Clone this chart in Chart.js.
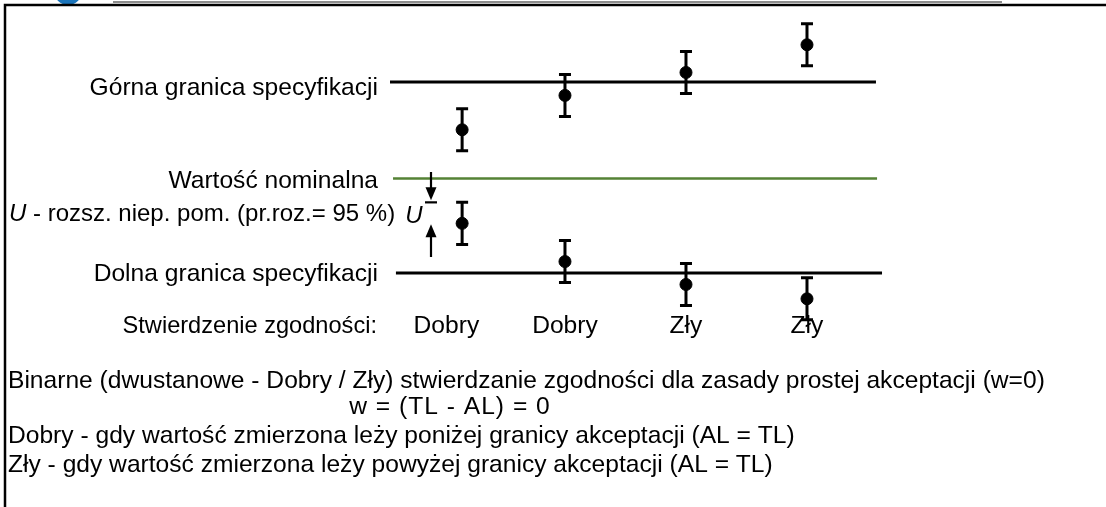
<!DOCTYPE html>
<html>
<head>
<meta charset="utf-8">
<script src="https://cdn.jsdelivr.net/npm/chart.js@4"></script>
<style>
  html, body { margin: 0; padding: 0; background: #fff; }
  #chart { display: block; }
</style>
</head>
<body>
<canvas id="chart" width="1106" height="507"></canvas>
<script>
// measurement results (upper group and lower group) and their verdicts
const verdicts = ['Dobry', 'Dobry', 'Zły', 'Zły'];
const xPos = [1.15, 2, 3, 4];
const verdictPos = [1.02, 2, 3, 4];
const upperValues = [10.50, 10.86, 11.10, 11.39];
const lowerValues = [9.52, 9.12, 8.88, 8.73];
const expandedU = 0.22;

// specification limits and nominal value
const upperLimit = 11.0;
const nominalValue = 9.99;
const lowerLimit = 9.0;
const upperSpan = [0.554, 4.57];
const nominalSpan = [0.579, 4.579];
const lowerSpan = [0.603, 4.62];

const leftLabels = [
    'Górna granica specyfikacji',
    'Wartość nominalna',
    'Dolna granica specyfikacji'
];
const uLabel = ' - rozsz. niep. pom. (pr.roz.= 95 %)';
const verdictTitle = 'Stwierdzenie zgodności:';
const noteLines = [
    'Binarne (dwustanowe - Dobry / Zły) stwierdzanie zgodności dla zasady prostej akceptacji (w=0)',
    'w = (TL - AL) = 0',
    'Dobry - gdy wartość zmierzona leży poniżej granicy akceptacji (AL = TL)',
    'Zły - gdy wartość zmierzona leży powyżej granicy akceptacji (AL = TL)'
];

const FAMILY = '"Liberation Sans", Arial, sans-serif';
const font = (size, style) => (style ? style + ' ' : '') + size + 'px ' + FAMILY;

function toPoints(xs, ys) {
    return xs.map((x, i) => ({ x: x, y: ys[i] }));
}

function arrow(ctx, x, y1, y2) {
    // shaft from y1 to tip at y2
    const dir = y2 > y1 ? 1 : -1;
    ctx.beginPath();
    ctx.moveTo(x, y1);
    ctx.lineTo(x, y2 - dir * 8);
    ctx.stroke();
    ctx.beginPath();
    ctx.moveTo(x, y2);
    ctx.lineTo(x - 5.5, y2 - dir * 13);
    ctx.lineTo(x + 5.5, y2 - dir * 13);
    ctx.closePath();
    ctx.fill();
}

// error bars for every measurement
const errorBars = {
    id: 'errorBars',
    afterDatasetsDraw(chart) {
        const { ctx, scales: { x, y } } = chart;
        ctx.save();
        ctx.strokeStyle = '#000';
        ctx.lineWidth = 3;
        [upperValues, lowerValues].forEach(vals => {
            vals.forEach((v, i) => {
                const px = x.getPixelForValue(xPos[i]);
                const top = y.getPixelForValue(v + expandedU);
                const bot = y.getPixelForValue(v - expandedU);
                ctx.beginPath();
                ctx.moveTo(px, top);
                ctx.lineTo(px, bot);
                ctx.moveTo(px - 6, top);
                ctx.lineTo(px + 6, top);
                ctx.moveTo(px - 6, bot);
                ctx.lineTo(px + 6, bot);
                ctx.stroke();
            });
        });
        ctx.restore();
    }
};

// texts, U arrows and the frame
const annotations = {
    id: 'annotations',
    afterDraw(chart) {
        const { ctx, scales: { x, y } } = chart;
        ctx.save();

        // frame
        ctx.fillStyle = '#1b75bb';
        ctx.beginPath();
        ctx.arc(68, -9, 14, 0, Math.PI * 2);
        ctx.fill();
        ctx.strokeStyle = '#8c8c8c';
        ctx.lineWidth = 2;
        ctx.beginPath();
        ctx.moveTo(113, 2);
        ctx.lineTo(1002, 2);
        ctx.stroke();
        ctx.strokeStyle = '#000';
        ctx.lineWidth = 2.5;
        ctx.beginPath();
        ctx.moveTo(5, 507);
        ctx.lineTo(5, 5);
        ctx.lineTo(1106, 5);
        ctx.stroke();

        ctx.fillStyle = '#000';
        ctx.textBaseline = 'middle';

        // left side labels
        ctx.font = font(24.6);
        ctx.textAlign = 'right';
        ctx.fillText(leftLabels[0], 378, 88);
        ctx.fillText(leftLabels[1], 378, 181);
        ctx.fillText(leftLabels[2], 378, 274);
        ctx.font = font(23.6);
        ctx.fillText(verdictTitle, 377, 326);

        ctx.textAlign = 'left';
        ctx.font = font(24, 'italic');
        ctx.fillText('U', 9, 214);
        const uw = ctx.measureText('U').width;
        ctx.font = font(24);
        ctx.fillText(uLabel, 9 + uw, 214);

        // verdict labels under each pair of results
        ctx.font = font(24.6);
        ctx.textAlign = 'center';
        verdicts.forEach((v, i) => {
            ctx.fillText(v, x.getPixelForValue(verdictPos[i]), 326);
        });

        // U annotation arrows
        const ax = 431;
        const barY = y.getPixelForValue(lowerValues[0] + expandedU);
        const tipY = y.getPixelForValue(lowerValues[0]);
        ctx.strokeStyle = '#000';
        ctx.lineWidth = 2.2;
        arrow(ctx, ax, 172, barY - 2);
        ctx.beginPath();
        ctx.moveTo(ax - 6, barY);
        ctx.lineTo(ax + 6, barY);
        ctx.stroke();
        arrow(ctx, ax, 257, tipY + 1);
        ctx.font = font(24, 'italic');
        ctx.fillText('U', 414, 216);

        // notes below the chart
        ctx.font = font(24.6);
        ctx.textAlign = 'left';
        ctx.fillText(noteLines[0], 8, 381);
        ctx.fillText(noteLines[2], 8, 436);
        ctx.fillText(noteLines[3], 8, 465);
        ctx.textAlign = 'center';
        ctx.letterSpacing = '1px';
        ctx.fillText(noteLines[1], 450, 407);
        ctx.letterSpacing = '0px';

        ctx.restore();
    }
};

const ctx = document.getElementById('chart').getContext('2d');
new Chart(ctx, {
    type: 'scatter',
    data: {
        datasets: [
            {
                label: 'Górna granica',
                data: toPoints(upperSpan, [upperLimit, upperLimit]),
                showLine: true,
                borderColor: '#000',
                borderWidth: 3,
                pointRadius: 0
            },
            {
                label: 'Wartość nominalna',
                data: toPoints(nominalSpan, [nominalValue, nominalValue]),
                showLine: true,
                borderColor: '#548235',
                borderWidth: 2.5,
                pointRadius: 0
            },
            {
                label: 'Dolna granica',
                data: toPoints(lowerSpan, [lowerLimit, lowerLimit]),
                showLine: true,
                borderColor: '#000',
                borderWidth: 3,
                pointRadius: 0
            },
            {
                label: 'Wyniki górne',
                data: toPoints(xPos, upperValues),
                backgroundColor: '#000',
                borderColor: '#000',
                pointRadius: 6
            },
            {
                label: 'Wyniki dolne',
                data: toPoints(xPos, lowerValues),
                backgroundColor: '#000',
                borderColor: '#000',
                pointRadius: 6
            }
        ]
    },
    options: {
        responsive: false,
        animation: false,
        layout: { padding: 0, autoPadding: false },
        plugins: {
            legend: { display: false },
            tooltip: { enabled: false }
        },
        scales: {
            x: { type: 'linear', display: false, min: -2.669, max: 6.471 },
            y: { type: 'linear', display: false, min: 6.550, max: 11.859 }
        }
    },
    plugins: [errorBars, annotations]
});
</script>
</body>
</html>
